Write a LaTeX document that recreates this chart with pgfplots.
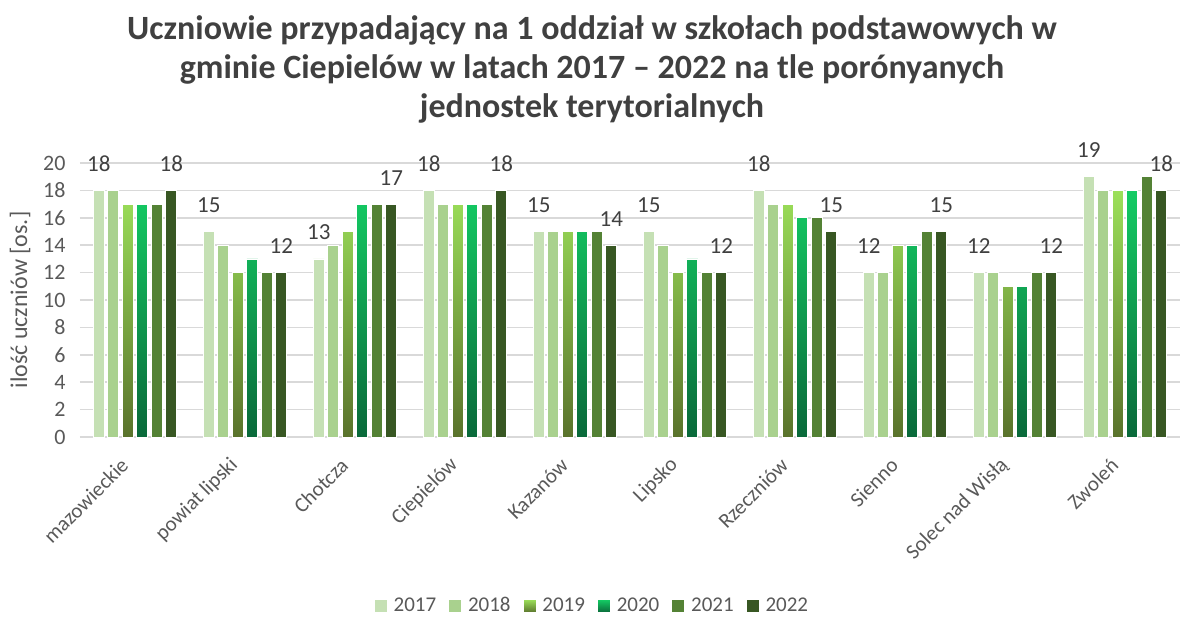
\documentclass[border=0pt]{standalone}
\usepackage{pgfplots}
\pgfplotsset{compat=1.18}
\usepackage{pgfplotstable}
\usepackage{fontspec}
\setmainfont{Carlito}
\definecolor{c17}{HTML}{C5E0B4}
\definecolor{c18}{HTML}{A9D18E}
\definecolor{c19top}{HTML}{9CE05A}
\definecolor{c19bot}{HTML}{5A732C}
\definecolor{c20top}{HTML}{14CC64}
\definecolor{c20bot}{HTML}{0A693A}
\definecolor{c21}{HTML}{548235}
\definecolor{c22}{HTML}{385723}
\definecolor{txt}{HTML}{595959}
\definecolor{ttl}{HTML}{404040}
\definecolor{gridc}{HTML}{D9D9D9}

% srednia liczba uczniow na oddzial
\pgfplotstableread{
x a b c d e f
0 18 18 17 17 17 18
1 15 14 12 13 12 12
2 13 14 15 17 17 17
3 18 17 17 17 17 18
4 15 15 15 15 15 14
5 15 14 12 13 12 12
6 18 17 17 16 16 15
7 12 12 14 14 15 15
8 12 12 11 11 12 12
9 19 18 18 18 19 18
}\data

\begin{document}
\begin{tikzpicture}
\begin{axis}[
    name=ax,
    scale only axis,
    width=550pt, height=137pt,
    ybar=1.75pt, bar width=5.5pt,
    xmin=-0.5, xmax=9.5, ymin=0, ymax=20,
    xtick={0,...,9},
    xticklabels={mazowieckie, powiat lipski, Chotcza, Ciepielów, Kazanów, Lipsko, Rzeczniów, Sienno, Solec nad Wisłą, Zwoleń},
    ytick={0,2,...,20},
    major tick length=0pt,
    axis line style={draw=none},
    ymajorgrids, grid style={gridc, line width=0.8pt},
    /pgf/number format/assume math mode=true,
    tick label style={font=\fontsize{11}{13}\selectfont, text=txt},
    xticklabel style={font=\fontsize{10.5}{12}\selectfont, anchor=east, xshift=-2.75pt, yshift=-10pt, rotate=45},
    yticklabel style={xshift=-3.7pt},
    ylabel={ilość uczniów [os.]},
    every axis y label/.style={at={(axis description cs:-0.0545,0.5)}, rotate=90, anchor=center, font=\fontsize{12}{14}\selectfont, text=txt},
    title={Uczniowie przypadający na 1 oddział w szkołach podstawowych w\\gminie Ciepielów w latach 2017 – 2022 na tle porónyanych\\jednostek terytorialnych},
    title style={at={(0.5,1)}, anchor=south, align=center, xshift=-19pt, yshift=10.5pt, text=ttl, font=\bfseries\fontsize{17}{19.5}\selectfont},
    every node near coord/.append style={font=\fontsize{11.5}{13}\selectfont, text=ttl, anchor=south, yshift=6pt},
    legend columns=6,
    legend style={at={(0.5,0)}, anchor=north, xshift=-18.5pt, yshift=-76pt, draw=none, font=\fontsize{10.5}{12}\selectfont, text=txt,
        /tikz/every odd column/.append style={column sep=1pt},
        /tikz/every even column/.append style={column sep=4pt}},
    legend image code/.code={\fill[#1] (0pt,-3.25pt) rectangle (6.5pt,3.25pt);},
]
\addplot[fill=c17, draw=white, line width=0.4pt, nodes near coords] table[x=x, y=a] {\data};
\addlegendentry{2017}
\addplot[fill=c18, draw=white, line width=0.4pt] table[x=x, y=b] {\data};
\addlegendentry{2018}
\addplot[top color=c19top, bottom color=c19bot, draw=white, line width=0.4pt] table[x=x, y=c] {\data};
\addlegendentry{2019}
\addplot[top color=c20top, bottom color=c20bot, draw=white, line width=0.4pt] table[x=x, y=d] {\data};
\addlegendentry{2020}
\addplot[fill=c21, draw=white, line width=0.4pt] table[x=x, y=e] {\data};
\addlegendentry{2021}
\addplot[fill=c22, draw=white, line width=0.4pt, nodes near coords] table[x=x, y=f] {\data};
\addlegendentry{2022}
\end{axis}
\pgfresetboundingbox
\path[use as bounding box] ([xshift=-40pt,yshift=-90pt]ax.south west) rectangle ([yshift=81.5pt]ax.north east);
\end{tikzpicture}
\end{document}
